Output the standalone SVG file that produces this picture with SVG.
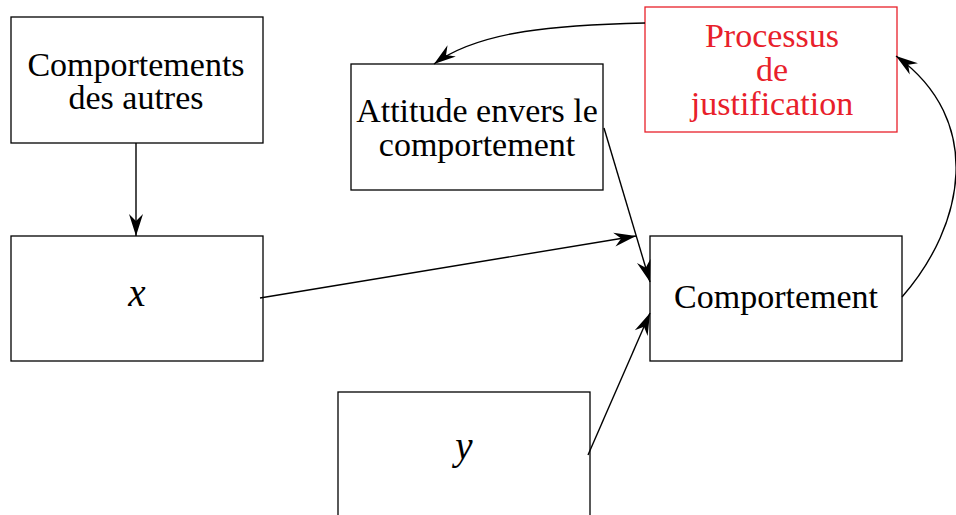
<svg xmlns="http://www.w3.org/2000/svg" width="956" height="515" viewBox="0 0 956 515">
  <defs>
    <style>
      .box { fill: #ffffff; stroke: #000000; stroke-width: 1.3; }
      .box-red { fill: #ffffff; stroke: #e8202a; stroke-width: 1.3; }
      .label { font-family: "Liberation Serif", "Times New Roman", serif; font-size: 34px; fill: #000000; text-anchor: middle; }
      .label-red { fill: #e8202a; }
      .math { font-style: italic; font-size: 39px; }
      .edge { fill: none; stroke: #000000; stroke-width: 1.4; }
    </style>
    <marker id="arrow" markerUnits="userSpaceOnUse" markerWidth="30" markerHeight="20" viewBox="-24 -10 26 20" refX="0" refY="0" orient="auto">
      <path d="M0,0 L-22,-7 L-15,0 L-22,7 Z" fill="#000000"/>
    </marker>
  </defs>

  <rect width="956" height="515" fill="#ffffff"/>

  <g id="node-comportements-autres">
    <rect class="box" x="11" y="17" width="252" height="126"/>
    <text class="label" x="136" y="76">Comportements</text>
    <text class="label" x="136" y="109">des autres</text>
  </g>

  <g id="node-x">
    <rect class="box" x="11" y="236" width="252" height="125"/>
    <text class="label math" x="137" y="306">x</text>
  </g>

  <g id="node-attitude">
    <rect class="box" x="351" y="64" width="252" height="126"/>
    <text class="label" x="477" y="122">Attitude envers le</text>
    <text class="label" x="477" y="156">comportement</text>
  </g>

  <g id="node-processus">
    <rect class="box-red" x="645" y="7" width="252" height="125"/>
    <text class="label label-red" x="772" y="47">Processus</text>
    <text class="label label-red" x="772" y="81">de</text>
    <text class="label label-red" x="772" y="115">justification</text>
  </g>

  <g id="node-comportement">
    <rect class="box" x="650" y="236" width="252" height="125"/>
    <text class="label" x="776" y="308">Comportement</text>
  </g>

  <g id="node-y">
    <rect class="box" x="338" y="392" width="252" height="140"/>
    <text class="label math" x="464" y="459">y</text>
  </g>

  <g id="connectors">
    <path class="edge" marker-end="url(#arrow)" d="M136,143 L136,236"/>
    <path class="edge" marker-end="url(#arrow)" d="M260,298 L636,236"/>
    <path class="edge" marker-end="url(#arrow)" d="M604,128 L650,282"/>
    <path class="edge" marker-end="url(#arrow)" d="M588,455 L650,313"/>
    <path class="edge" marker-end="url(#arrow)" d="M902,297 C965,225 985,120 896,56"/>
    <path class="edge" marker-end="url(#arrow)" d="M645,23 C560,25 480,30 434,64"/>
  </g>
</svg>
